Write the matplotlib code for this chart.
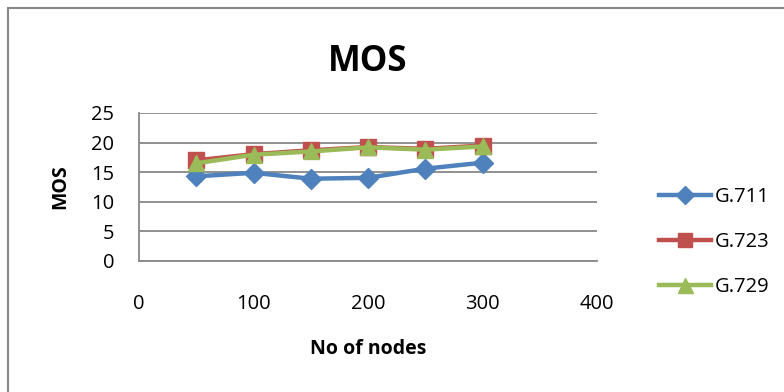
import matplotlib
matplotlib.use('Agg')
import matplotlib.pyplot as plt
from matplotlib.patches import Rectangle

plt.rcParams['font.family'] = ['Open Sans', 'DejaVu Sans']

nodes = [50, 100, 150, 200, 250, 300]
g711 = [14.3, 14.9, 13.9, 14.05, 15.6, 16.6]
g723 = [17.0, 18.05, 18.7, 19.25, 18.95, 19.5]
g729 = [16.5, 17.95, 18.5, 19.2, 18.8, 19.35]

series = [
    ("G.711", g711, '#4F81BD', 'D', 10.5),
    ("G.723", g723, '#C0504D', 's', 11),
    ("G.729", g729, '#9BBB59', '^', 12),
]

fig = plt.figure(figsize=(7.84, 3.92), dpi=100)
ax = fig.add_axes([139 / 784, 1 - 261 / 392, 458 / 784, 148 / 392])

# chart frame
fig.patches.append(Rectangle((8 / 784, -0.1), 1.2, 1 - 8 / 392 + 0.1,
                             transform=fig.transFigure, fill=False,
                             edgecolor='#888888', linewidth=1.5))

for name, vals, color, marker, ms in series:
    ax.plot(nodes, vals, color=color, linewidth=3.2, marker=marker,
            markersize=ms, markeredgecolor=color, label=name)

ax.set_xlim(0, 400)
ax.set_ylim(0, 25)
ax.set_xticks([0, 100, 200, 300, 400])
ax.set_yticks([0, 5, 10, 15, 20, 25])
ax.grid(axis='y', color='#888888', linewidth=1.3)
ax.set_axisbelow(True)
for s in ['top', 'right']:
    ax.spines[s].set_visible(False)
for s in ['left', 'bottom']:
    ax.spines[s].set_color('#888888')
    ax.spines[s].set_linewidth(1.3)
ax.tick_params(axis='both', length=0, labelsize=14.5)
ax.tick_params(axis='y', pad=18)
ax.tick_params(axis='x', pad=24)

ax.set_title('MOS', fontsize=25, fontweight='bold', pad=30)
ax.set_ylabel('MOS', fontsize=14, fontweight='bold', labelpad=15)
ax.set_xlabel('No of nodes', fontsize=14, fontweight='bold', labelpad=18)

ax.legend(loc='center left', bbox_to_anchor=(1.096, 0.13), frameon=False,
          fontsize=14.5, handlelength=2.6, handletextpad=0.15,
          labelspacing=1.25, markerscale=0.9)

fig.savefig('out.png', dpi=100)
